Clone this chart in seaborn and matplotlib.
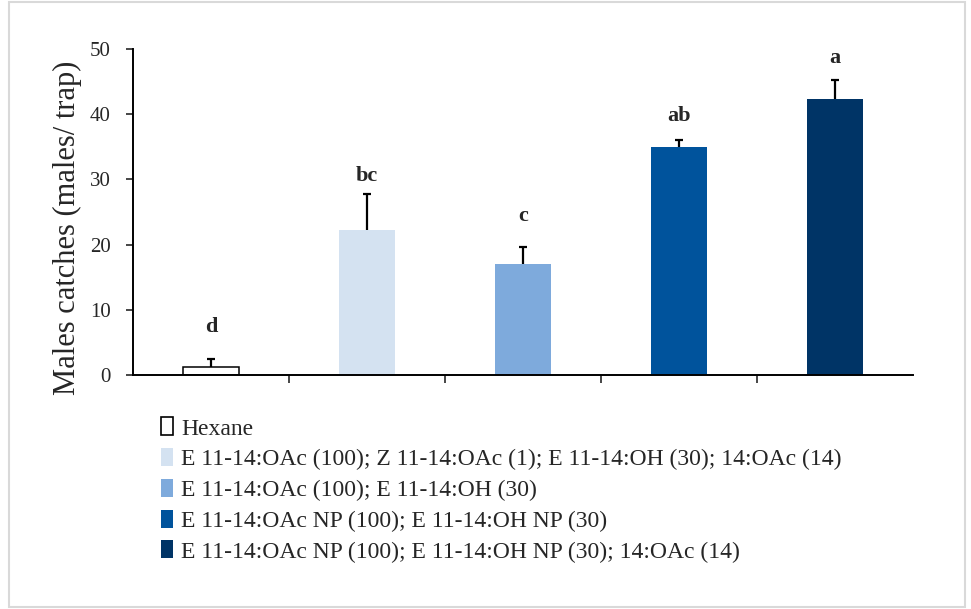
import pandas as pd
import seaborn as sns
import matplotlib.pyplot as plt
from matplotlib.patches import Patch

treatments = [
    "Hexane",
    "E 11-14:OAc (100); Z 11-14:OAc (1); E 11-14:OH (30); 14:OAc (14)",
    "E 11-14:OAc (100); E 11-14:OH (30)",
    "E 11-14:OAc NP (100); E 11-14:OH NP (30)",
    "E 11-14:OAc NP (100); E 11-14:OH NP (30); 14:OAc (14)",
]
catches = [1.3, 22.3, 17.1, 35.0, 42.3]
errors = [1.2, 5.5, 2.6, 1.0, 2.9]
letters = ["d", "bc", "c", "ab", "a"]
letter_y = [7.4, 30.5, 24.4, 39.7, 48.6]
colors = ["#ffffff", "#d4e2f1", "#7eaadc", "#00539c", "#003466"]

df = pd.DataFrame({"Treatment": treatments, "Catches": catches})

sns.set_style("white")
plt.rcParams["font.family"] = ["Liberation Serif", "DejaVu Serif"]

fig = plt.figure(figsize=(9.71, 6.09), dpi=100)
ax = fig.add_axes([0.137, 0.384, 0.803, 0.536])

sns.barplot(data=df, x="Treatment", y="Catches", hue="Treatment",
            palette=colors, saturation=1, width=0.36, legend=False, ax=ax,
            edgecolor="none", linewidth=0)
# hexane bar gets a black outline
ax.patches[0].set_edgecolor("black")
ax.patches[0].set_linewidth(1.1)

xs = list(range(len(treatments)))
eb = ax.errorbar(xs, catches, yerr=[[0] * len(errors), errors], fmt="none",
                 ecolor="black", elinewidth=1.6, capsize=3, capthick=1.6, zorder=3)
eb[1][0].set_visible(False)  # only the upper cap
for x, ly, lab in zip(xs, letter_y, letters):
    ax.text(x, ly, lab, ha="center", va="center", fontsize=16, fontweight="bold")

ax.set_xlim(-0.5, len(treatments) - 0.5)
ax.set_ylim(0, 50)
ax.set_yticks([0, 10, 20, 30, 40, 50])
ax.set_xticks([i + 0.5 for i in range(len(treatments) - 1)])
ax.set_xticklabels([])
ax.set_xlabel("")
ax.set_ylabel("Males catches (males/ trap)", fontsize=22)
ax.yaxis.set_label_coords(-0.066, 0.45)
ax.tick_params(axis="y", labelsize=15, length=5, width=1.2, direction="out", left=True, pad=11)
ax.tick_params(axis="x", length=6, width=1.2, direction="out", bottom=True)
for s in ["top", "right"]:
    ax.spines[s].set_visible(False)
for s in ["left", "bottom"]:
    ax.spines[s].set_color("black")
    ax.spines[s].set_linewidth(1.4)

handles = []
for t, col in zip(treatments, colors):
    if col == "#ffffff":
        handles.append(Patch(facecolor=col, edgecolor="black", linewidth=1.2, label=t))
    else:
        handles.append(Patch(facecolor=col, edgecolor="none", label=t))
fig.legend(handles=handles, loc="upper left", bbox_to_anchor=(0.154, 0.334),
           frameon=False, fontsize=17, handlelength=0.5, handleheight=0.8,
           handletextpad=0.35, labelspacing=0.36, borderpad=0)

fig.patches.append(plt.Rectangle((0.009, 0.004), 0.985, 0.992, transform=fig.transFigure,
                                 fill=False, edgecolor="#d9d9d9", linewidth=1.5))
fig.savefig("out.png", dpi=100)
